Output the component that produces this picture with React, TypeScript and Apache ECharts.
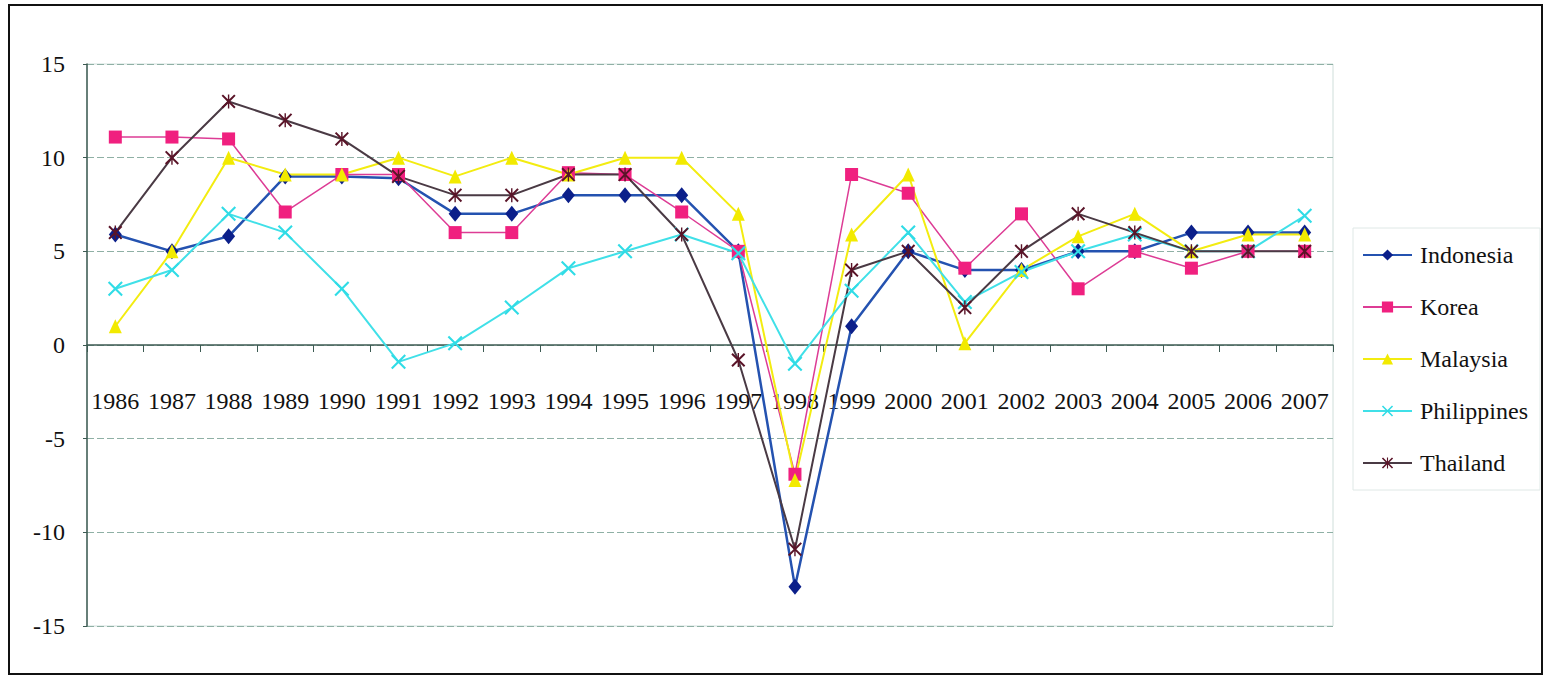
import React, { useEffect, useRef } from "react";
import * as echarts from "echarts";

const years = [
  "1986", "1987", "1988", "1989", "1990", "1991", "1992", "1993", "1994", "1995", "1996",
  "1997", "1998", "1999", "2000", "2001", "2002", "2003", "2004", "2005", "2006", "2007",
];

const indonesia = [5.9, 5.0, 5.8, 9.0, 9.0, 8.9, 7.0, 7.0, 8.0, 8.0, 8.0, 5.0, -12.9, 1.0, 5.0, 4.0, 4.0, 5.0, 5.0, 6.0, 6.0, 6.0];
const korea = [11.1, 11.1, 11.0, 7.1, 9.1, 9.1, 6.0, 6.0, 9.2, 9.1, 7.1, 5.0, -6.9, 9.1, 8.1, 4.1, 7.0, 3.0, 5.0, 4.1, 5.0, 5.0];
const malaysia = [1.0, 5.0, 10.0, 9.1, 9.1, 10.0, 9.0, 10.0, 9.1, 10.0, 10.0, 7.0, -7.2, 5.9, 9.1, 0.1, 4.0, 5.8, 7.0, 5.0, 5.9, 5.9];
const philippines = [3.0, 4.0, 7.0, 6.0, 3.0, -0.9, 0.1, 2.0, 4.1, 5.0, 5.9, 4.9, -1.0, 2.9, 6.0, 2.3, 3.9, 5.0, 5.9, 5.0, 5.0, 6.9];
const thailand = [6.0, 10.0, 13.0, 12.0, 11.0, 9.0, 8.0, 8.0, 9.1, 9.1, 5.9, -0.8, -10.9, 4.0, 5.0, 2.0, 5.0, 7.0, 6.0, 5.0, 5.0, 5.0];

const seriesNames = ["Indonesia", "Korea", "Malaysia", "Philippines", "Thailand"];

const Y_MIN = -15;
const Y_MAX = 15;
const Y_STEP = 5;

const FONT = '"Liberation Serif", "Times New Roman", serif';

const X_PATH =
  "path://M0,2 L2,0 L10,8 L18,0 L20,2 L12,10 L20,18 L18,20 L10,12 L2,20 L0,18 L8,10 Z";
const STAR_PATH =
  "path://M0,2 L2,0 L10,8 L18,0 L20,2 L12,10 L20,18 L18,20 L10,12 L2,20 L0,18 L8,10 Z M9,0 L11,0 L11,20 L9,20 Z";

const GRID_TOP = 64;
const GRID_HEIGHT = 562;

export default function App() {
  const ref = useRef<HTMLDivElement>(null);

  useEffect(() => {
    if (!ref.current) return;
    const chart = echarts.init(ref.current, null, { renderer: "svg" });

    // place the category axis on the zero value line
    const zeroOffset = -GRID_HEIGHT * ((0 - Y_MIN) / (Y_MAX - Y_MIN));

    const mk = (
      name: string,
      data: number[],
      symbol: string,
      size: number | number[],
      lineColor: string,
      markerColor: string,
      width: number
    ) => ({
      name,
      type: "line",
      data,
      symbol,
      symbolSize: size,
      showAllSymbol: true,
      lineStyle: { color: lineColor, width },
      itemStyle: { color: markerColor, borderWidth: 0 },
      emphasis: { disabled: true },
    });

    chart.setOption({
      animation: false,
      backgroundColor: "#ffffff",
      textStyle: { fontFamily: FONT },
      grid: {
        left: 87,
        right: 217,
        top: GRID_TOP,
        height: GRID_HEIGHT,
        show: true,
        borderColor: "#cfdeda",
        borderWidth: 1,
        outerBoundsMode: "none",
      },
      legend: {
        orient: "vertical",
        left: 1353,
        top: 228,
        padding: [15, 12, 15, 9],
        borderColor: "#dfe8e6",
        borderWidth: 1,
        itemWidth: 49,
        itemHeight: 14,
        itemGap: 28,
        data: seriesNames,
        textStyle: {
          fontFamily: FONT,
          fontSize: 24,
          lineHeight: 24,
          color: "#111111",
          padding: [0, 0, 0, 3],
        },
      },
      xAxis: {
        type: "category",
        data: years,
        boundaryGap: true,
        position: "bottom",
        offset: zeroOffset,
        axisLine: { onZero: false, lineStyle: { color: "#3c5a52", width: 1.5 } },
        axisTick: { show: true, interval: 0, length: 7, lineStyle: { color: "#3c5a52" } },
        axisLabel: {
          interval: 0,
          margin: 44,
          fontSize: 24,
          fontFamily: FONT,
          color: "#111111",
        },
        splitLine: { show: false },
      },
      yAxis: {
        type: "value",
        min: Y_MIN,
        max: Y_MAX,
        interval: Y_STEP,
        axisLine: { show: true, lineStyle: { color: "#3c5a52", width: 1.5 } },
        axisTick: { show: true, length: 4, lineStyle: { color: "#3c5a52" } },
        axisLabel: { fontSize: 24, margin: 22, fontFamily: FONT, color: "#111111" },
        splitLine: { show: true, lineStyle: { color: "#8fb0a5", type: [7, 3], width: 1 } },
      },
      graphic: [
        {
          type: "rect",
          silent: true,
          z: 100,
          shape: { x: 9, y: 5, width: 1533, height: 669 },
          style: { fill: "none", stroke: "#111111", lineWidth: 2 },
        },
      ],
      series: [
        mk("Indonesia", indonesia, "diamond", [13, 16], "#2452b0", "#0b1f8a", 2.5),
        mk("Korea", korea, "rect", 13, "#dd3c95", "#f0207f", 1.5),
        mk("Malaysia", malaysia, "triangle", [13, 14], "#f3ec10", "#f2ea00", 2),
        mk("Philippines", philippines, X_PATH, 15, "#40e0e8", "#30dce6", 2),
        mk("Thailand", thailand, STAR_PATH, 14, "#4a3a44", "#5a1428", 2),
      ],
    });

    return () => chart.dispose();
  }, []);

  return (
    <div
      ref={ref}
      style={{ position: "fixed", left: 0, top: 0, width: 1550, height: 680, background: "#fff" }}
    />
  );
}
